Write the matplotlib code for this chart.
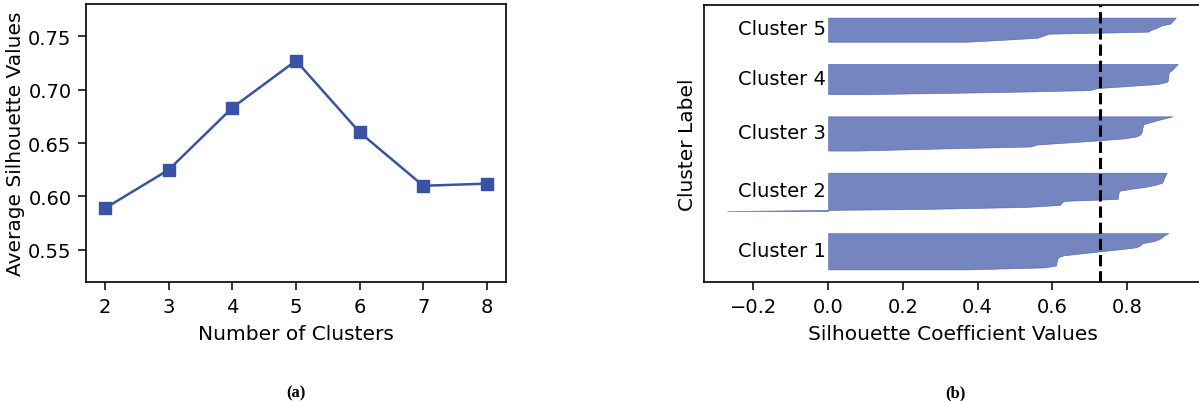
import matplotlib
matplotlib.use("Agg")
import matplotlib.pyplot as plt

# (a) average silhouette per number of clusters
n_clusters = [2, 3, 4, 5, 6, 7, 8]
avg_silhouette = [0.589, 0.625, 0.683, 0.727, 0.660, 0.610, 0.612]

# (b) sorted silhouette values of each sample, k = 5
cluster_names = ["Cluster 1", "Cluster 2", "Cluster 3", "Cluster 4", "Cluster 5"]
sil_c1 = [0.37, 0.58, 0.61, 0.61, 0.612, 0.613, 0.615, 0.63, 0.68, 0.73,
          0.78, 0.825, 0.835, 0.84, 0.87, 0.885, 0.893, 0.90, 0.91]
sil_c2 = [-0.27, 0.25, 0.53, 0.62, 0.624, 0.63, 0.775, 0.775, 0.776, 0.777,
          0.778, 0.81, 0.85, 0.875, 0.893, 0.896, 0.898, 0.90, 0.903, 0.905]
sil_c3 = [0.08, 0.30, 0.54, 0.56, 0.64, 0.72, 0.79, 0.825, 0.835, 0.838,
          0.84, 0.84, 0.842, 0.843, 0.86, 0.88, 0.90, 0.921]
sil_c4 = [0.10, 0.45, 0.70, 0.72, 0.80, 0.88, 0.905, 0.909, 0.909, 0.91,
          0.91, 0.912, 0.92, 0.925, 0.93, 0.935]
sil_c5 = [0.37, 0.47, 0.56, 0.575, 0.59, 0.855, 0.865, 0.88, 0.89, 0.915,
          0.92, 0.925, 0.93]
sil_avg_k5 = 0.727

blue = "#3a52a5"

plt.rcParams["font.family"] = "DejaVu Sans"
plt.rcParams["font.size"] = 14
plt.rcParams["axes.linewidth"] = 1.2

fig = plt.figure(figsize=(11.99, 4.02), dpi=100)
W, H = 1199, 402
ax1 = fig.add_axes([86 / W, 1 - 283 / H, 420 / W, 278 / H])
ax2 = fig.add_axes([704 / W, 1 - 283 / H, 498 / W, 277 / H])

# --- left panel
ax1.plot(n_clusters, avg_silhouette, color=blue, marker="s", markersize=9,
         linewidth=1.8)
ax1.set_ylim(0.52, 0.78)
ax1.set_yticks([0.55, 0.60, 0.65, 0.70, 0.75])
ax1.set_xticks(n_clusters)
ax1.set_xlabel("Number of Clusters", labelpad=6, fontsize=14.5)
ax1.set_ylabel("Average Silhouette Values", labelpad=2, fontsize=14.5)

# --- right panel
y_lower = 10
for name, vals in zip(cluster_names,
                      [sil_c1, sil_c2, sil_c3, sil_c4, sil_c5]):
    y_upper = y_lower + len(vals)
    ax2.fill_betweenx(range(y_lower, y_upper), 0, vals,
                      facecolor=blue, edgecolor=blue, alpha=0.7, linewidth=0.5)
    ax2.text(-0.005, y_lower + 0.5 * len(vals), name, ha="right", va="center")
    y_lower = y_upper + 10

ax2.axvline(x=sil_avg_k5, color="black", linestyle="--", linewidth=2.2)
ax2.set_xlim(-0.332, 1.0)
ax2.set_yticks([])
ax2.set_xticks([-0.2, 0, 0.2, 0.4, 0.6, 0.8])
ax2.set_xlabel("Silhouette Coefficient Values", labelpad=6, fontsize=14.5)
ax2.set_ylabel("Cluster Label", labelpad=5, fontsize=14.5)

for ax in (ax1, ax2):
    ax.tick_params(length=5.5, width=1.1, pad=5)

fig.text(296 / W, 1 - 393 / H, "(a)", ha="center", va="center",
         family="Liberation Serif", weight="bold", fontsize=12)
fig.text(955 / W, 1 - 393 / H, "(b)", ha="center", va="center",
         family="Liberation Serif", weight="bold", fontsize=12)

fig.savefig("out.png", dpi=100)
